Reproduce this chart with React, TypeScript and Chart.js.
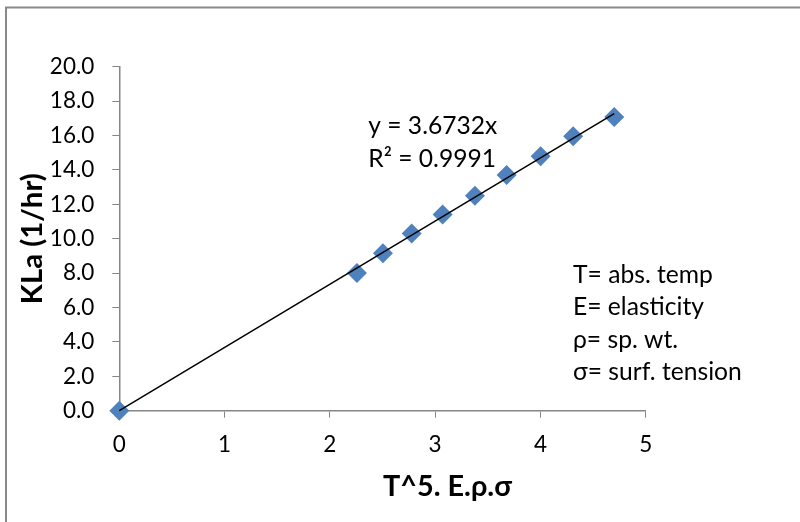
import { useEffect, useRef } from "react";
import { Chart, registerables } from "chart.js";

Chart.register(...registerables);

// ---- data ----
const xValues = [0, 2.257, 2.504, 2.777, 3.071, 3.378, 3.679, 4.002, 4.311, 4.701];
const yValues = [0, 8.0, 9.15, 10.3, 11.4, 12.5, 13.7, 14.8, 15.95, 17.08];
const slope = 3.6732;
const rSquared = 0.9991;
const yTickMin = 0;
const yTickMax = 20;
const yTickStep = 2;
const xTickMin = 0;
const xTickMax = 5;
const xTickStep = 1;
const xTitle = "T^5. E.\u03c1.\u03c3";
const yTitle = "KLa (1/hr)";
const equationLines = [`y = ${slope}x`, `R\u00b2 = ${rSquared}`];
const legendNotes = ["T= abs. temp", "E= elasticity", "\u03c1= sp. wt.", "\u03c3= surf. tension"];

const FONT = "Lato, 'Open Sans', sans-serif";
const AXIS_COLOR = "#868686";
const MARKER_COLOR = "#4F81BD";
const TICK_SIZE = 22.5;

function fitSize(ctx: CanvasRenderingContext2D, text: string, target: number, weight: string) {
  ctx.font = `${weight} 100px ${FONT}`;
  const w = ctx.measureText(text).width;
  return (100 * target) / w;
}

const decorPlugin = {
  id: "decor",
  beforeDraw(chart: any) {
    const ctx: CanvasRenderingContext2D = chart.ctx;
    ctx.save();
    ctx.fillStyle = "#ffffff";
    ctx.fillRect(0, 0, chart.width, chart.height);
    ctx.strokeStyle = "#898989";
    ctx.lineWidth = 2;
    ctx.strokeRect(6, 7.5, chart.width + 20, chart.height + 20);
    ctx.restore();
  },
  afterDraw(chart: any) {
    const ctx: CanvasRenderingContext2D = chart.ctx;
    const area = chart.chartArea;
    ctx.save();
    ctx.fillStyle = "#000000";
    ctx.textAlign = "left";
    ctx.textBaseline = "alphabetic";

    // trendline equation
    const eqSize = fitSize(ctx, equationLines[0], 129, "normal");
    ctx.font = `normal ${eqSize}px ${FONT}`;
    const eqLeft = area.left + 249;
    ctx.fillText(equationLines[0], eqLeft, area.top + 67);
    ctx.fillText(equationLines[1], eqLeft, area.top + 100);

    // notes
    const noteSize = fitSize(ctx, legendNotes[0], 140, "normal");
    ctx.font = `normal ${noteSize}px ${FONT}`;
    const noteLeft = area.left + 453.7;
    legendNotes.forEach((t, i) => {
      ctx.fillText(t, noteLeft, area.top + 216 + i * 32.5);
    });

    // x title
    const xtSize = fitSize(ctx, xTitle, 129, "bold");
    ctx.font = `bold ${xtSize}px ${FONT}`;
    ctx.fillText(xTitle, area.left + 263.7, area.bottom + 85);

    // y title (centred on the plot area)
    const ytSize = fitSize(ctx, yTitle, 131, "bold");
    ctx.font = `bold ${ytSize}px ${FONT}`;
    ctx.translate(41.7, (area.top + area.bottom) / 2);
    ctx.rotate(-Math.PI / 2);
    ctx.textAlign = "center";
    ctx.fillText(yTitle, 0, 0);
    ctx.restore();
  },
};

export default function App() {
  const ref = useRef<HTMLCanvasElement | null>(null);

  useEffect(() => {
    document.body.style.margin = "0";
    const canvas = ref.current;
    if (!canvas) return;
    const points = xValues.map((x, i) => ({ x, y: yValues[i] }));
    const xMax = Math.max(...xValues);
    const trend = [
      { x: 0, y: 0 },
      { x: xMax, y: slope * xMax },
    ];
    const chart = new Chart(canvas, {
      type: "scatter",
      data: {
        datasets: [
          {
            type: "line",
            label: "trend",
            data: trend,
            borderColor: "#000000",
            borderWidth: 1.5,
            pointRadius: 0,
            fill: false,
            showLine: true,
            clip: false,
          } as any,
          {
            label: "data",
            data: points,
            pointStyle: "rectRot",
            pointRadius: 10,
            pointBackgroundColor: MARKER_COLOR,
            pointBorderColor: MARKER_COLOR,
            pointBorderWidth: 0,
            showLine: false,
            clip: false,
          } as any,
        ],
      },
      options: {
        responsive: false,
        animation: false,
        layout: { padding: { top: 66.7, right: 154.3, left: 0, bottom: 0 } },
        plugins: {
          legend: { display: false },
          tooltip: { enabled: false },
        },
        scales: {
          x: {
            type: "linear",
            min: xTickMin,
            max: xTickMax,
            ticks: {
              stepSize: xTickStep,
              color: "#000000",
              font: { family: FONT, size: TICK_SIZE },
              padding: 14,
              maxRotation: 0,
            },
            grid: {
              drawOnChartArea: false,
              drawTicks: true,
              tickLength: 7,
              color: AXIS_COLOR,
            },
            border: { display: true, color: AXIS_COLOR, width: 1.5 },
            afterFit: (s: any) => {
              s.height = 111.3;
            },
          },
          y: {
            type: "linear",
            min: yTickMin,
            max: yTickMax,
            ticks: {
              stepSize: yTickStep,
              color: "#000000",
              font: { family: FONT, size: TICK_SIZE },
              padding: 18,
              callback: (v: any) => Number(v).toFixed(1),
            },
            grid: {
              drawOnChartArea: false,
              drawTicks: true,
              tickLength: 7,
              color: AXIS_COLOR,
            },
            border: { display: true, color: AXIS_COLOR, width: 1.5 },
            afterFit: (s: any) => {
              s.width = 119.3;
            },
          },
        },
      },
      plugins: [decorPlugin],
    });
    return () => chart.destroy();
  }, []);

  return <canvas ref={ref} width={800} height={522} style={{ display: "block" }} />;
}
